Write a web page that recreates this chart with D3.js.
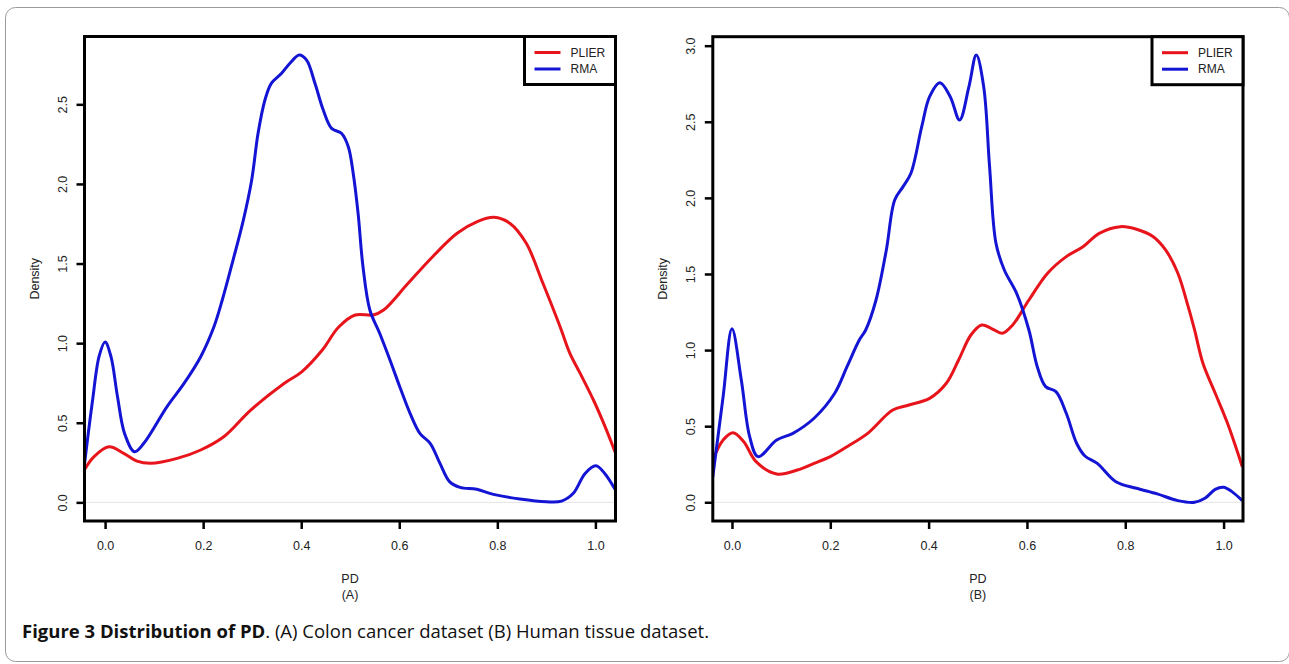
<!DOCTYPE html>
<html>
<head>
  <title>Distribution of PD</title>
  <script src="https://d3js.org/d3.v7.min.js"></script>
  <style>
    body { margin: 0; background: #fff; }
  </style>
</head>
<body>
  <svg width="1289" height="664"></svg>

  <script>
    // Panel A - colon cancer dataset
    const plierAx = [-0.042, -0.023, 0.008, 0.038, 0.065, 0.093, 0.147, 0.195, 0.242, 0.297, 0.365, 0.401, 0.443, 0.476, 0.51, 0.547, 0.568, 0.618, 0.668, 0.718, 0.759, 0.793, 0.826, 0.859, 0.893, 0.928, 0.948, 0.969, 0.996, 1.017, 1.041];
    const plierAy = [0.205, 0.286, 0.349, 0.308, 0.259, 0.245, 0.276, 0.329, 0.412, 0.58, 0.747, 0.82, 0.957, 1.10, 1.177, 1.177, 1.208, 1.376, 1.543, 1.69, 1.763, 1.79, 1.752, 1.627, 1.376, 1.103, 0.936, 0.81, 0.643, 0.496, 0.31];
    const rmaAx = [-0.042, -0.026, -0.012, 0.0, 0.012, 0.025, 0.04, 0.06, 0.079, 0.126, 0.161, 0.195, 0.222, 0.239, 0.261, 0.282, 0.299, 0.312, 0.326, 0.339, 0.36, 0.377, 0.396, 0.411, 0.428, 0.445, 0.462, 0.482, 0.496, 0.506, 0.516, 0.526, 0.54, 0.56, 0.581, 0.601, 0.622, 0.642, 0.663, 0.683, 0.703, 0.724, 0.758, 0.792, 0.846, 0.9, 0.931, 0.955, 0.979, 1.001, 1.019, 1.041];
    const rmaAy = [0.24, 0.63, 0.92, 1.007, 0.915, 0.67, 0.43, 0.318, 0.371, 0.6, 0.747, 0.915, 1.103, 1.271, 1.522, 1.773, 2.025, 2.318, 2.527, 2.632, 2.695, 2.758, 2.81, 2.778, 2.632, 2.464, 2.349, 2.318, 2.234, 2.067, 1.815, 1.48, 1.208, 1.062, 0.894, 0.726, 0.559, 0.433, 0.371, 0.245, 0.129, 0.094, 0.082, 0.05, 0.021, 0.004, 0.008, 0.057, 0.182, 0.23, 0.182, 0.077];

    // Panel B - human tissue dataset
    const plierBx = [-0.039, -0.018, 0.002, 0.024, 0.049, 0.091, 0.133, 0.167, 0.2, 0.234, 0.276, 0.327, 0.36, 0.402, 0.436, 0.461, 0.486, 0.508, 0.529, 0.55, 0.571, 0.604, 0.642, 0.68, 0.714, 0.747, 0.79, 0.823, 0.857, 0.882, 0.907, 0.928, 0.941, 0.958, 0.983, 1.008, 1.038];
    const plierBy = [0.278, 0.409, 0.457, 0.398, 0.267, 0.186, 0.212, 0.256, 0.30, 0.365, 0.453, 0.606, 0.639, 0.683, 0.782, 0.935, 1.099, 1.165, 1.14, 1.11, 1.165, 1.329, 1.505, 1.614, 1.679, 1.767, 1.811, 1.794, 1.745, 1.658, 1.505, 1.285, 1.132, 0.913, 0.716, 0.519, 0.234];
    const rmaBx = [-0.039, -0.018, 0.0, 0.019, 0.036, 0.053, 0.091, 0.124, 0.167, 0.209, 0.234, 0.259, 0.272, 0.293, 0.314, 0.331, 0.348, 0.364, 0.386, 0.402, 0.423, 0.444, 0.463, 0.482, 0.497, 0.512, 0.524, 0.537, 0.554, 0.579, 0.604, 0.621, 0.638, 0.659, 0.68, 0.701, 0.718, 0.743, 0.781, 0.823, 0.865, 0.907, 0.941, 0.962, 0.983, 1.0, 1.017, 1.038];
    const rmaBy = [0.168, 0.694, 1.14, 0.804, 0.431, 0.30, 0.409, 0.453, 0.552, 0.716, 0.891, 1.066, 1.132, 1.329, 1.658, 1.986, 2.074, 2.162, 2.468, 2.665, 2.757, 2.665, 2.512, 2.731, 2.939, 2.731, 2.205, 1.702, 1.526, 1.373, 1.132, 0.891, 0.76, 0.727, 0.585, 0.388, 0.304, 0.256, 0.135, 0.092, 0.055, 0.011, 0.0, 0.026, 0.085, 0.099, 0.07, 0.011];

    const xTicks = [0.0, 0.2, 0.4, 0.6, 0.8, 1.0];
    const yTicksA = [0.0, 0.5, 1.0, 1.5, 2.0, 2.5];
    const yTicksB = [0.0, 0.5, 1.0, 1.5, 2.0, 2.5, 3.0];
    const seriesNames = ["PLIER", "RMA"];
    const seriesColors = ["#e8141b", "#1414d4"];

    const svg = d3.select("svg");

    // outer card
    svg.append("rect")
      .attr("x", 5.5).attr("y", 7.5)
      .attr("width", 1284).attr("height", 654)
      .attr("rx", 10)
      .attr("fill", "#fff")
      .attr("stroke", "#9a9a9a")
      .attr("stroke-width", 1);

    function drawPanel(p) {
      const x = d3.scaleLinear().domain(p.xDomain).range([p.left, p.right]);
      const y = d3.scaleLinear().domain(p.yDomain).range([p.bottom, p.top]);
      const g = svg.append("g");

      g.append("clipPath").attr("id", p.id)
        .append("rect")
        .attr("x", p.left).attr("y", p.top)
        .attr("width", p.right - p.left).attr("height", p.bottom - p.top);

      // gray zero line
      g.append("line")
        .attr("x1", p.left).attr("x2", p.right)
        .attr("y1", y(0)).attr("y2", y(0))
        .attr("stroke", "#e4e4e4").attr("stroke-width", 1);

      const line = d3.line()
        .x(d => x(d[0]))
        .y(d => y(d[1]))
        .curve(d3.curveCatmullRom.alpha(0.5));

      p.series.forEach((s, i) => {
        g.append("path")
          .datum(d3.zip(s.xs, s.ys))
          .attr("clip-path", "url(#" + p.id + ")")
          .attr("d", line)
          .attr("fill", "none")
          .attr("stroke", seriesColors[i])
          .attr("stroke-width", 3)
          .attr("stroke-linejoin", "round");
      });

      // x axis
      const xAxis = g.append("g")
        .attr("transform", "translate(0," + p.bottom + ")")
        .call(d3.axisBottom(x).tickValues(xTicks).tickFormat(d3.format(".1f")).tickSize(8).tickPadding(12));
      xAxis.select(".domain").remove();
      xAxis.selectAll(".tick line").attr("stroke", "#000").attr("stroke-width", 2.5);
      xAxis.selectAll(".tick text")
        .style("font-family", "'Liberation Sans', Arial, sans-serif")
        .style("font-size", "12.5px")
        .attr("fill", "#222");

      // y axis
      const yAxis = g.append("g")
        .attr("transform", "translate(" + p.left + ",0)")
        .call(d3.axisLeft(y).tickValues(p.yTicks).tickFormat(d3.format(".1f")).tickSize(8));
      yAxis.select(".domain").remove();
      yAxis.selectAll(".tick line").attr("stroke", "#000").attr("stroke-width", 2.5);
      yAxis.selectAll(".tick text")
        .attr("x", null).attr("dy", null)
        .attr("transform", "translate(-22,0) rotate(-90)")
        .attr("text-anchor", "middle")
        .attr("dominant-baseline", "central")
        .style("font-family", "'Liberation Sans', Arial, sans-serif")
        .style("font-size", "12.5px")
        .attr("fill", "#222");

      // plot frame
      g.append("rect")
        .attr("x", p.left).attr("y", p.top)
        .attr("width", p.right - p.left).attr("height", p.bottom - p.top)
        .attr("fill", "none")
        .attr("stroke", "#000")
        .attr("stroke-width", 3);

      // axis titles
      const cx = (p.left + p.right) / 2;
      g.append("text")
        .attr("x", cx).attr("y", 583)
        .attr("text-anchor", "middle")
        .style("font-family", "'Liberation Sans', Arial, sans-serif")
        .style("font-size", "12.5px")
        .attr("fill", "#222")
        .text("PD");
      g.append("text")
        .attr("x", cx).attr("y", 599)
        .attr("text-anchor", "middle")
        .style("font-family", "'Liberation Sans', Arial, sans-serif")
        .style("font-size", "12.5px")
        .attr("fill", "#222")
        .text(p.tag);
      g.append("text")
        .attr("transform", "translate(" + (p.left - 50) + "," + ((p.top + p.bottom) / 2) + ") rotate(-90)")
        .attr("text-anchor", "middle")
        .attr("dominant-baseline", "central")
        .style("font-family", "'Liberation Sans', Arial, sans-serif")
        .style("font-size", "12.5px")
        .attr("fill", "#222")
        .text("Density");

      // legend
      const lg = g.append("g");
      lg.append("rect")
        .attr("x", p.right - 91).attr("y", p.top)
        .attr("width", 91).attr("height", 48)
        .attr("fill", "#fff")
        .attr("stroke", "#000")
        .attr("stroke-width", 3);
      seriesNames.forEach((name, i) => {
        const ly = p.top + 16 + i * 16.5;
        lg.append("line")
          .attr("x1", p.right - 81).attr("x2", p.right - 55)
          .attr("y1", ly).attr("y2", ly)
          .attr("stroke", seriesColors[i]).attr("stroke-width", 3);
        lg.append("text")
          .attr("x", p.right - 45).attr("y", ly)
          .attr("dominant-baseline", "central")
          .style("font-family", "'Liberation Sans', Arial, sans-serif")
          .style("font-size", "12px")
          .attr("fill", "#222")
          .text(name);
      });
    }

    drawPanel({
      id: "clipA", tag: "(A)",
      left: 84.5, right: 615.5, top: 36.5, bottom: 521,
      xDomain: [-0.042, 1.041], yDomain: [-0.117, 2.926], yTicks: yTicksA,
      series: [{ xs: plierAx, ys: plierAy }, { xs: rmaAx, ys: rmaAy }]
    });
    drawPanel({
      id: "clipB", tag: "(B)",
      left: 712.8, right: 1243, top: 36.7, bottom: 521,
      xDomain: [-0.039, 1.0395], yDomain: [-0.123, 3.059], yTicks: yTicksB,
      series: [{ xs: plierBx, ys: plierBy }, { xs: rmaBx, ys: rmaBy }]
    });

    // caption
    const cap = svg.append("text")
      .attr("x", 22).attr("y", 638)
      .style("font-family", "'Open Sans', 'Noto Sans', sans-serif")
      .style("font-size", "18.5px")
      .attr("fill", "#111");
    cap.append("tspan").attr("font-weight", "bold").text("Figure 3 Distribution of PD");
    cap.append("tspan").text(". (A) Colon cancer dataset (B) Human tissue dataset.");
  </script>
</body>
</html>
